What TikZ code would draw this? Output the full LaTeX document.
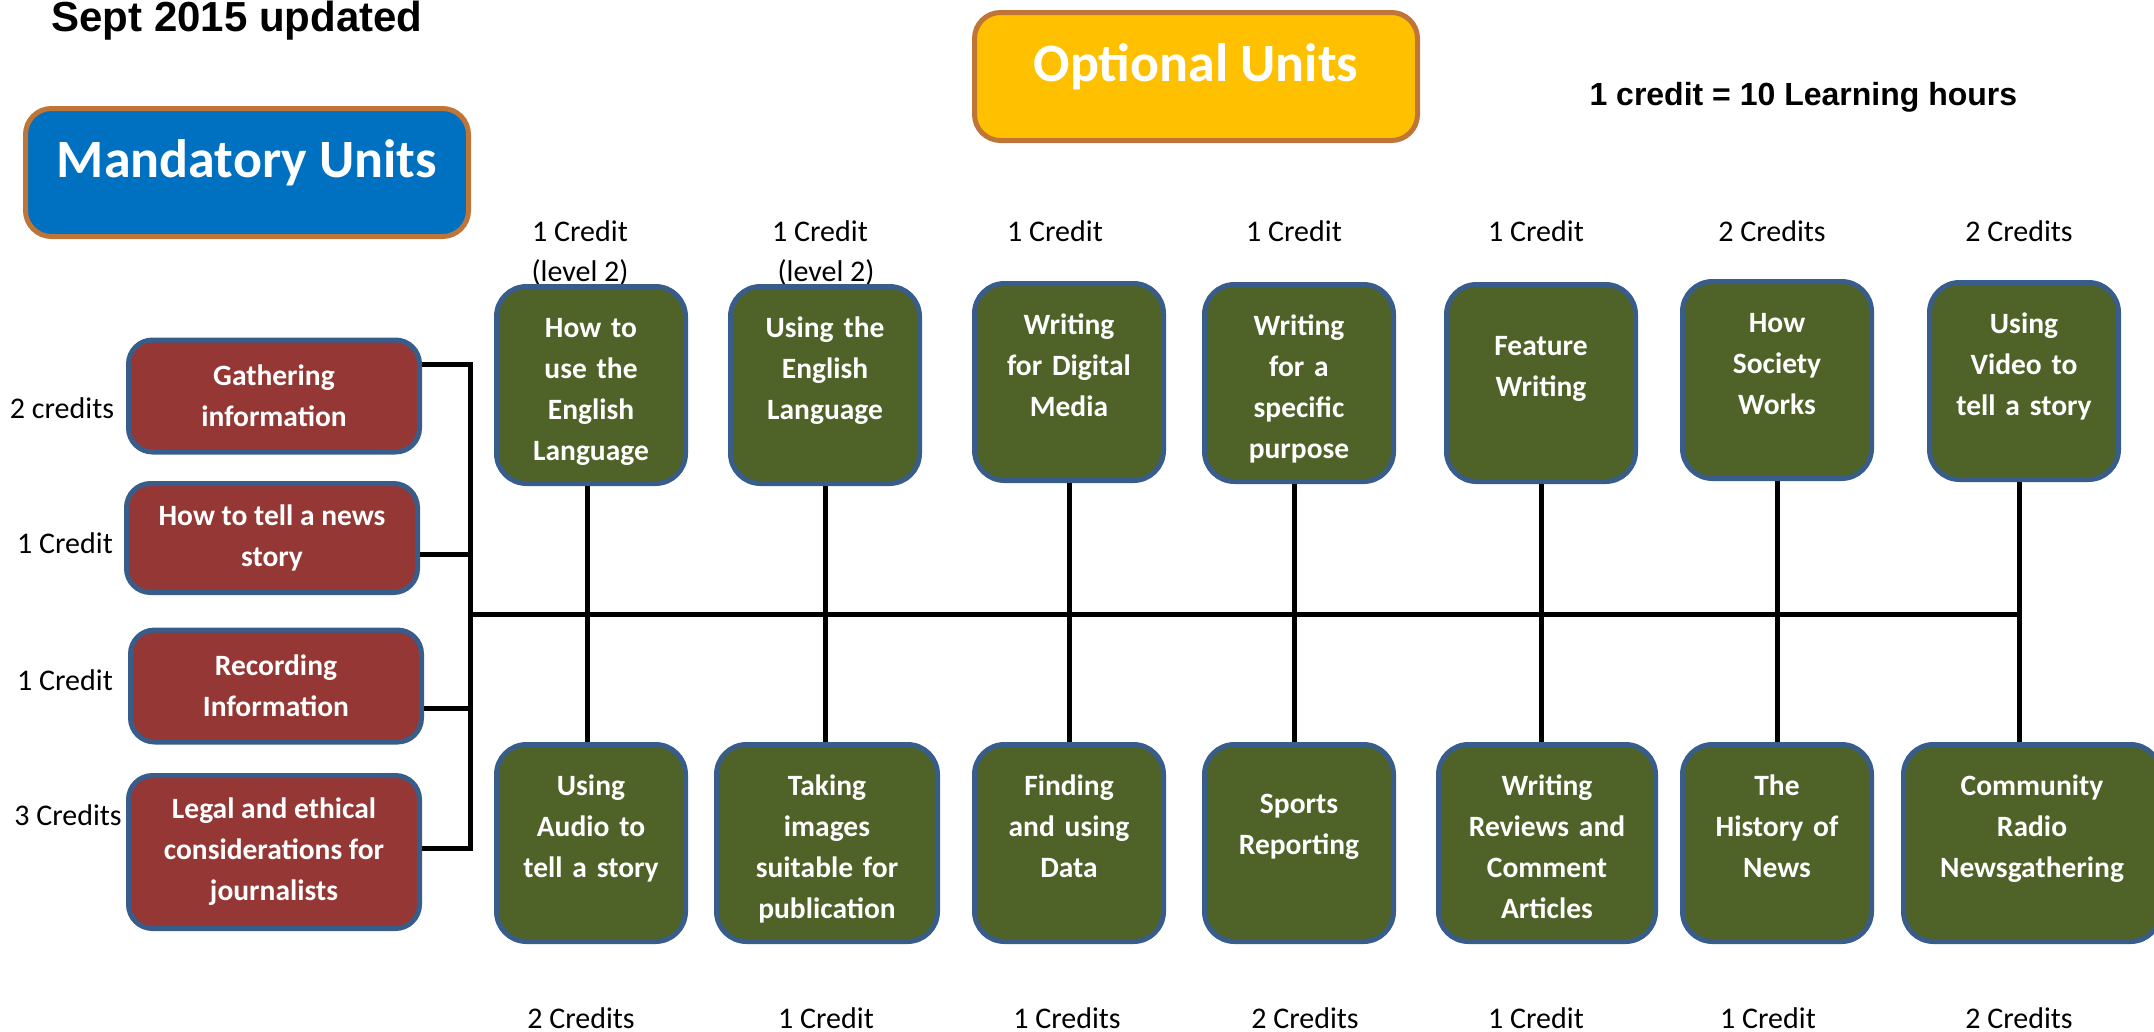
\documentclass[tikz,border=0pt]{standalone}
\usepackage{fontspec}
\setmainfont{Carlito}
\newfontfamily\headfont{Liberation Sans}

\definecolor{unitred}{RGB}{149,55,53}
\definecolor{unitgreen}{RGB}{79,98,40}
\definecolor{unitedge}{RGB}{56,93,138}
\definecolor{headedge}{RGB}{190,117,55}
\definecolor{headblue}{RGB}{0,112,192}
\definecolor{headgold}{RGB}{255,192,0}

\tikzset{
  unit/.style={draw=unitedge, line width=5pt, rounded corners=30pt, text=white,
    font=\fontsize{29.5}{41}\selectfont\bfseries, align=center, inner sep=0pt},
  mand/.style={unit, fill=unitred, minimum width=291pt, rounded corners=24pt},
  opt/.style={unit, fill=unitgreen, minimum width=189pt, minimum height=197pt,
    text width=186pt, text height=20pt, text depth=116pt},
  head/.style={draw=headedge, line width=5pt, rounded corners=26pt, text=white,
    font=\fontsize{54}{60}\selectfont\bfseries, minimum width=443pt,
    minimum height=128pt, text height=40pt, text depth=31pt},
  credit/.style={font=\fontsize{30}{41}\selectfont, anchor=base},
  bus/.style={line width=5pt}
}

\begin{document}
\begin{tikzpicture}[x=1pt,y=-1pt]
\useasboundingbox (0,0) rectangle (2154,1031);

\node[anchor=base west, font=\headfont\bfseries\fontsize{42}{48}\selectfont] (updated) at (48,31) {Sept 2015 updated};
\node[anchor=base west, font=\headfont\bfseries\fontsize{32}{38}\selectfont] (hours) at (1586,105) {1 credit = 10 Learning hours};

\node[head, fill=headblue] (mandatory) at (247,172.5) {Mandatory Units};
\node[head, fill=headgold] (optional) at (1196,76.5) {Optional Units};

% credits above and below the optional units
\node[credit] (ct1) at (580,241) {1 Credit};
\node[credit] (lv1) at (580,281) {(level 2)};
\node[credit] (ct2) at (820,241) {1 Credit};
\node[credit] (lv2) at (826,281) {(level 2)};
\node[credit] (ct3) at (1055,241) {1 Credit};
\node[credit] (ct4) at (1294,241) {1 Credit};
\node[credit] (ct5) at (1536,241) {1 Credit};
\node[credit] (ct6) at (1772,241) {2 Credits};
\node[credit] (ct7) at (2019,241) {2 Credits};

\node[credit] (cb1) at (581,1028) {2 Credits};
\node[credit] (cb2) at (826,1028) {1 Credit};
\node[credit] (cb3) at (1067,1028) {1 Credits};
\node[credit] (cb4) at (1305,1028) {2 Credits};
\node[credit] (cb5) at (1536,1028) {1 Credit};
\node[credit] (cb6) at (1768,1028) {1 Credit};
\node[credit] (cb7) at (2019,1028) {2 Credits};

\node[credit] (cl1) at (62,418) {2 credits};
\node[credit] (cl2) at (65,553) {1 Credit};
\node[credit] (cl3) at (65,690) {1 Credit};
\node[credit] (cl4) at (68,825) {3 Credits};

% mandatory units
\node[mand, minimum height=112pt] (r1) at (274,396) {Gathering\\information};
\node[mand, minimum height=109pt] (r2) at (272,538) {How to tell a news\\story};
\node[mand, minimum height=112pt] (r3) at (276,686) {Recording\\Information};
\node[mand, minimum height=153pt] (r4) at (274,852) {Legal and ethical\\considerations for\\journalists};

% optional units
\node[opt] (t1) at (591,385) {How to\\use the\\English\\Language};
\node[opt] (t2) at (825,385) {Using the\\English\\Language};
\node[opt] (t3) at (1069,382) {Writing\\for Digital\\Media};
\node[opt] (t4) at (1299,383) {Writing\\for a\\specific\\purpose};
\node[opt, text depth=76pt] (t5) at (1541,383) {Feature\\Writing};
\node[opt] (t6) at (1777,380) {How\\Society\\Works};
\node[opt] (t7) at (2024,381) {Using\\Video to\\tell a story};

\node[opt] (b1) at (591,843) {Using\\Audio to\\tell a story};
\node[opt, minimum width=221pt] (b2) at (827,843) {Taking\\images\\suitable for\\publication};
\node[opt] (b3) at (1069,843) {Finding\\and using\\Data};
\node[opt, text depth=80pt] (b4) at (1299,843) {Sports\\Reporting};
\node[opt, minimum width=217pt] (b5) at (1547,843) {Writing\\Reviews and\\Comment\\Articles};
\node[opt] (b6) at (1777,843) {The\\History of\\News};
\node[opt, minimum width=257pt] (b7) at (2032,843) {Community\\Radio\\Newsgathering};

\coordinate (bus1) at (470,364);
\coordinate (bus2) at (470,554);
\coordinate (bus3) at (470,708);
\coordinate (bus4) at (470,848);
\coordinate (hub) at (470,614);
\coordinate (v1) at ([xshift=-4pt]t1.south);
\coordinate (v4) at ([xshift=-5pt]t4.south);
\coordinate (v7) at ([xshift=-5pt]t7.south);

\draw[bus] (r1.east |- bus1) -- (bus1) -- (bus4) -- (r4.east |- bus4);
\draw[bus] (r2.east |- bus2) -- (bus2);
\draw[bus] (r3.east |- bus3) -- (bus3);
\draw[bus] (hub) -- (hub -| v7);

\draw[bus] (v1) -- (v1 |- b1.north);
\draw[bus] (t2.south) -- (t2.south |- b2.north);
\draw[bus] (t3.south) -- (t3.south |- b3.north);
\draw[bus] (v4) -- (v4 |- b4.north);
\draw[bus] (t5.south) -- (t5.south |- b5.north);
\draw[bus] (t6.south) -- (t6.south |- b6.north);
\draw[bus] (v7) -- (v7 |- b7.north);
\end{tikzpicture}
\end{document}
